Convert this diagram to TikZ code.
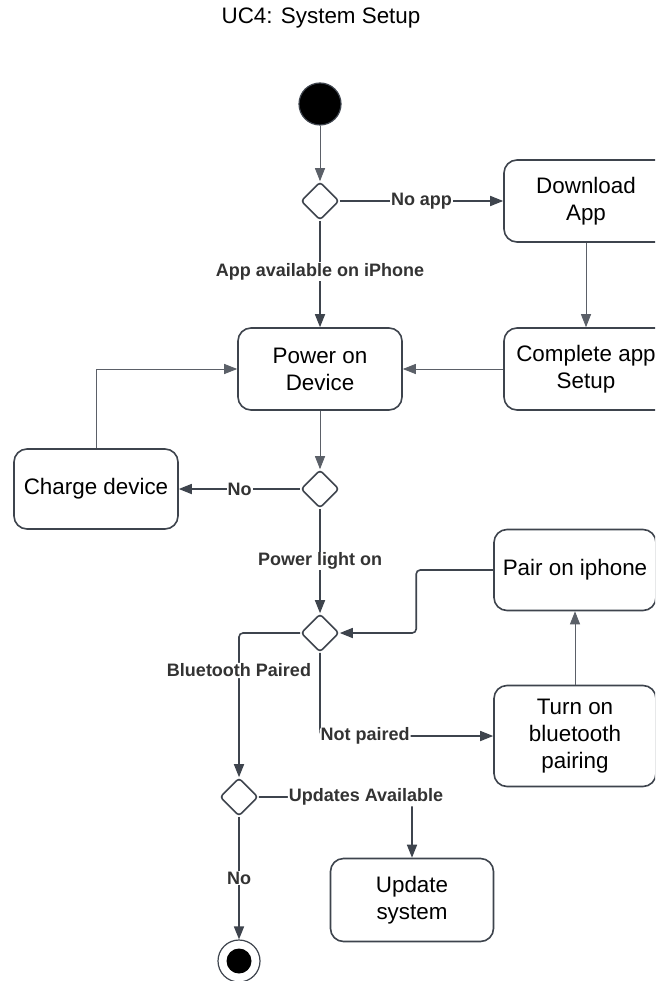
\documentclass[tikz,border=0pt]{standalone}
\usepackage{fontspec}
\setmainfont{Liberation Sans}
\usetikzlibrary{arrows.meta, shapes.geometric}
\definecolor{edgegray}{HTML}{3E444D}
\definecolor{labelgray}{HTML}{333333}

\begin{document}
\begin{tikzpicture}[
    x=1pt, y=-1pt,
    state/.style={rectangle, rounded corners=13pt, draw=edgegray, line width=1.6pt, align=center, minimum width=164pt, minimum height=82pt, inner sep=2pt, font=\fontsize{22.4}{27}\selectfont},
    choice/.style={diamond, draw=edgegray, line width=1.6pt, rounded corners=3pt, minimum width=38pt, minimum height=38pt, inner sep=0pt},
    arrow/.style={line width=1.6pt, draw=edgegray, -{Triangle[length=13pt, width=10pt]}},
    thin_arrow/.style={line width=0.9pt, draw=edgegray!85, -{Triangle[length=13pt, width=10pt]}},
    guard/.style={fill=white, text=labelgray, inner sep=1pt, font=\bfseries\fontsize{18}{20}\selectfont}
]
\clip (0, 0) rectangle (655, 981);
\fill [white] (0, 0) rectangle (655, 981);

% --- Nodes ---
\node (title) at (321, 18) [font=\fontsize{22.4}{26}\selectfont] {UC4: System Setup};
\node (start) at (320, 104) [circle, fill=black, draw=edgegray, line width=1.2pt, minimum size=42pt, inner sep=0pt] {};
\node (d1) at (320, 201) [choice] {};
\node (download) at (586, 201) [state] {Download\\App};
\node (complete) at (586, 369) [state] {Complete app\\Setup};
\node (power) at (320, 369) [state] {Power on\\Device};

% Power check
\node (charge) at (96, 489) [state, minimum height=80pt] {Charge device};
\node (d2) at (320, 489) [choice] {};

% Bluetooth check
\node (pair) at (575, 570) [state, minimum width=162pt, minimum height=81pt] {Pair on iphone};
\node (d3) at (320, 633) [choice] {};
\node (turnon) at (575, 736) [state, minimum width=162pt, minimum height=101pt] {Turn on\\bluetooth\\pairing};

% Updates
\node (d4) at (239, 797) [choice] {};
\node (update) at (412, 900) [state, minimum width=163pt, minimum height=83pt] {Update\\system};
\node (stop) at (239, 961) [circle, draw=edgegray, line width=1.2pt, minimum size=42pt, inner sep=0pt] {};
\fill (stop.center) circle [radius=12.5pt];

% --- Edges ---
\draw [thin_arrow] (start) -- (d1);
\draw [arrow] (d1) -- node[guard] {No app} (download);
\draw [arrow] (d1) -- node[guard, pos=0.48] {App available on iPhone} (power);
\draw [thin_arrow] (download) -- (complete);
\draw [thin_arrow] (complete) -- (power);
\draw [thin_arrow] (power) -- (d2);

\draw [arrow] (d2) -- node[guard] {No} (charge);
\draw [thin_arrow] (charge.north) |- (power.west);
\draw [arrow] (d2) -- node[guard] {Power light on} (d3);

\draw [arrow, rounded corners=4pt] (pair.west) -- ++(-77, 0) |- (d3.east);
\draw [thin_arrow] (turnon) -- (pair);
\draw [arrow, rounded corners=4pt] (d3.south) |- node[guard, pos=0.63] {Not paired} (turnon.west);
\draw [arrow, rounded corners=4pt] (d3.west) -| node[guard, pos=0.63] {Bluetooth Paired} (d4.north);

\draw [arrow, rounded corners=4pt] (d4.east) -| node[guard, pos=0.35] {Updates Available} (update.north);
\draw [arrow] (d4) -- node[guard] {No} (stop);

\end{tikzpicture}
\end{document}
